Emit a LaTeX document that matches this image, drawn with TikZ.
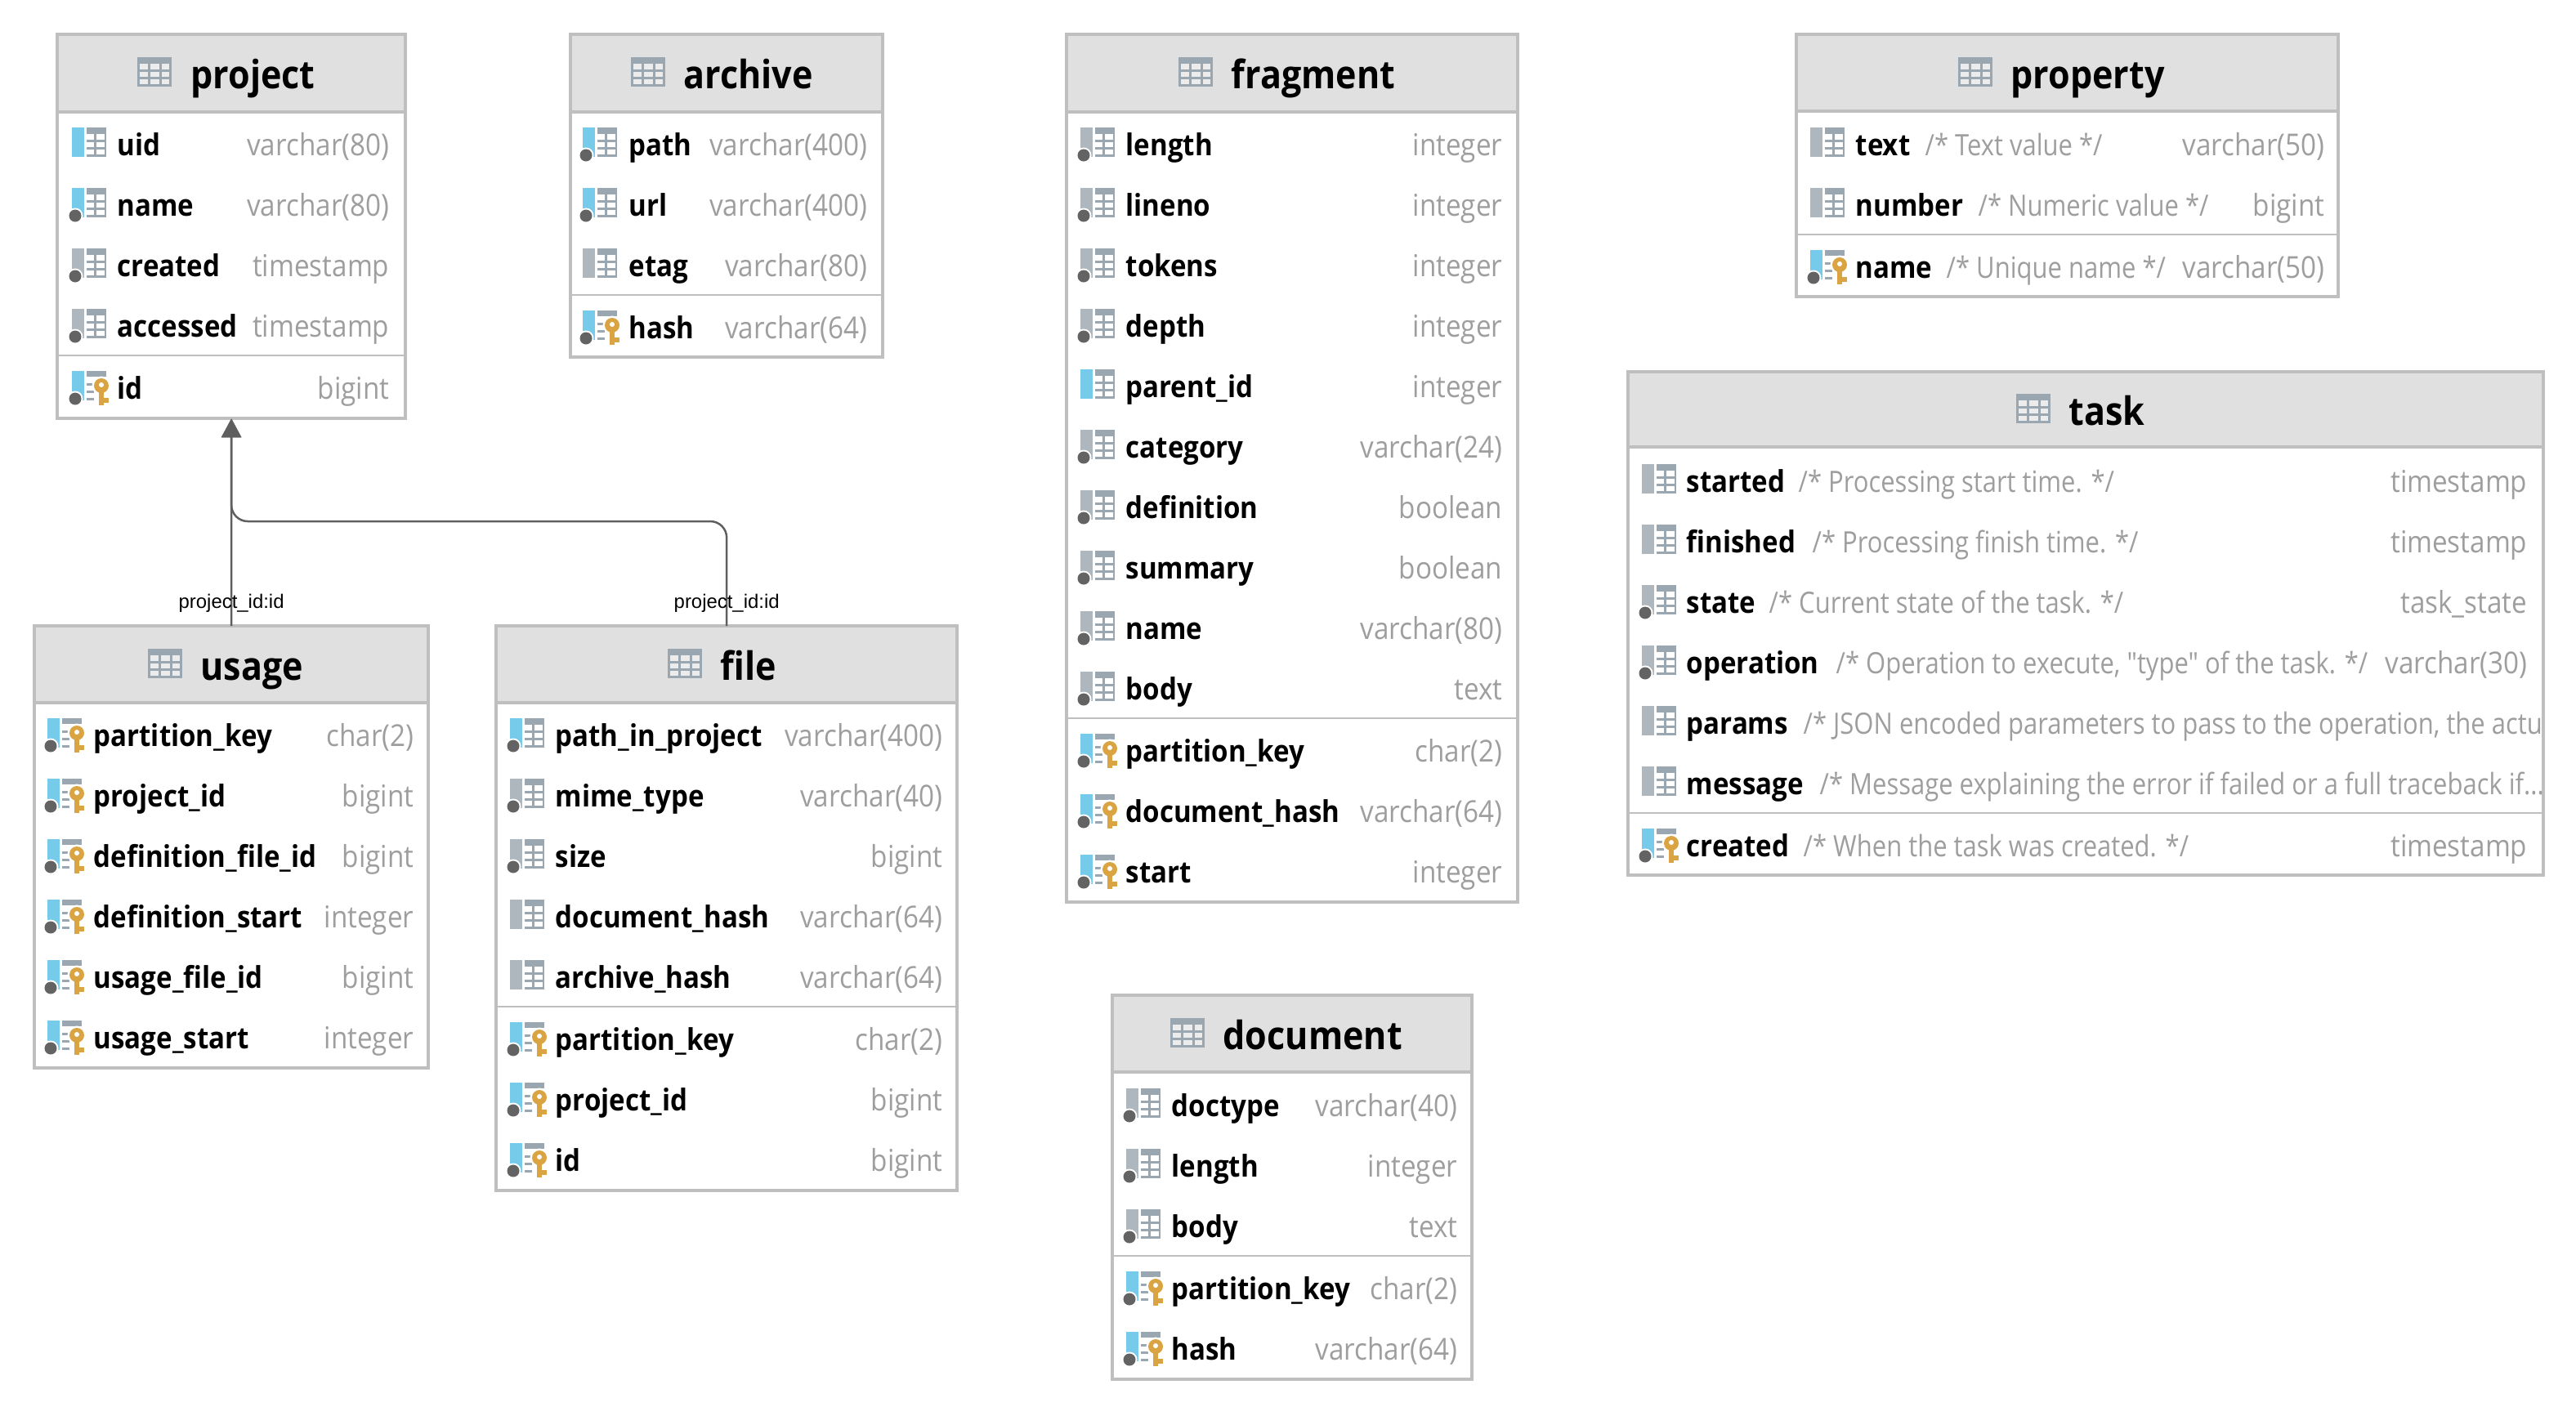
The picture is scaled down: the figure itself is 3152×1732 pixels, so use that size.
\documentclass[tikz,border=0pt]{standalone}
\usepackage{fontspec}
\setmainfont[FakeStretch=0.9]{Open Sans}
\newfontfamily\notefont[FakeStretch=0.86]{Open Sans}
\newfontfamily\edgefont{Liberation Sans}
\usepackage{xcolor}
\definecolor{border}{RGB}{191,191,191}
\definecolor{headfill}{RGB}{224,224,224}
\definecolor{cellfill}{RGB}{236,236,236}
\definecolor{typegray}{RGB}{158,158,158}
\definecolor{icongray}{RGB}{154,167,176}
\definecolor{bargray}{RGB}{173,183,189}
\definecolor{barblue}{RGB}{118,203,235}
\definecolor{dotgray}{RGB}{99,99,99}
\definecolor{keygold}{RGB}{217,164,65}
\definecolor{linkgray}{RGB}{95,95,95}
\usetikzlibrary{arrows.meta}
\newcommand{\colgrid}{%
    \fill[icongray] (18,-18) rectangle (42,-10);
    \fill[icongray] (27,-10) rectangle (30,18);
    \fill[icongray] (40,-10) rectangle (42,18);
    \fill[icongray] (18,-3) rectangle (42,0);
    \fill[icongray] (18,6) rectangle (42,9);
    \fill[icongray] (18,15) rectangle (42,18);
}
\newcommand{\coldot}{%
    \fill[white] (4,16) circle (9.5);
    \fill[dotgray] (4,16) circle (7.5);
}
\tikzset{
    pics/tableicon/.style={code={
        \fill[cellfill] (0,0) rectangle (42,36);
        \draw[icongray,line width=0.03cm] (1.5,1.5) rectangle (40.5,34.5);
        \draw[icongray,line width=0.03cm] (14,0) -- (14,36) (28.5,0) -- (28.5,36) (0,16.5) -- (42,16.5) (0,25.5) -- (42,25.5);
        \fill[icongray] (0,0) rectangle (42,8);
    }},
    pics/colplain/.style={code={\fill[bargray] (0,-18) rectangle (15,18); \colgrid}},
    pics/colnull/.style={code={\fill[bargray] (0,-18) rectangle (15,18); \colgrid \coldot}},
    pics/colidx/.style={code={\fill[barblue] (0,-18) rectangle (15,18); \colgrid}},
    pics/colidxnull/.style={code={\fill[barblue] (0,-18) rectangle (15,18); \colgrid \coldot}},
    pics/colpk/.style={code={
        \fill[barblue] (0,-18) rectangle (15,18);
        \fill[icongray] (18,-18) rectangle (42,-11);
        \fill[icongray] (18,-3) rectangle (27,0);
        \fill[icongray] (18,6) rectangle (27,9);
        \fill[icongray] (18,15) rectangle (27,18);
        \coldot
        \fill[white] (36,0) circle (11.5);
        \fill[white] (31,0) rectangle (41,26);
        \fill[keygold] (36,0) circle (9);
        \fill[keygold] (33,0) rectangle (39,24);
        \fill[keygold] (39,15) rectangle (45,21);
        \fill[white] (36,-1) circle (3);
    }}
}
\begin{document}
\begin{tikzpicture}[
        x=0.01cm, y=-0.01cm,
        tablebox/.style={rectangle, draw=border, fill=white, line width=0.04cm, anchor=north west, inner sep=0pt, outer sep=0pt},
        tablehead/.style={rectangle, draw=border, fill=headfill, line width=0.04cm, anchor=north west, inner sep=0pt, outer sep=0pt},
        tabletitle/.style={anchor=base west, inner sep=0pt, yshift=-0.015cm, font=\fontsize{13.6}{16}\selectfont\bfseries, text=black},
        colname/.style={anchor=base west, inner sep=0pt, yshift=-0.165cm, font=\fontsize{10.45}{12}\selectfont\bfseries, text=black},
        coltype/.style={anchor=base east, inner sep=0pt, yshift=-0.165cm, font=\fontsize{10.5}{12}\selectfont, text=typegray},
        colnote/.style={anchor=base west, inner sep=0pt, yshift=-0.165cm, font=\fontsize{10.24}{12}\notefont, text=typegray},
        rowline/.style={draw=border, line width=0.02cm},
        fklink/.style={draw=linkgray, line width=0.025cm, rounded corners=0.2cm, -{Triangle[length=0.23cm,width=0.24cm]}},
        fklabel/.style={inner sep=0pt, text=black, font=\fontsize{6.8}{8}\edgefont}
    ]
        \useasboundingbox (0,0) rectangle (3152,1732);

        % project
        \node[tablebox, minimum width=4.26cm, minimum height=4.70cm] (project) at (70,42) {};
        \node[tablehead, minimum width=4.26cm, minimum height=0.95cm] (project-head) at (70,42) {};
        \pic at (168,70) {tableicon};
        \node[tabletitle] (project-title) at (233,107) {project};
        \pic at (88,174) {colidx};
        \node[colname] (project-uid) at (143,174) {uid};
        \node[coltype] (project-uid-t) at (477,174) {varchar(80)};
        \pic at (88,248) {colidxnull};
        \node[colname] (project-name) at (143,248) {name};
        \node[coltype] (project-name-t) at (477,248) {varchar(80)};
        \pic at (88,322) {colnull};
        \node[colname] (project-created) at (143,322) {created};
        \node[coltype] (project-created-t) at (477,322) {timestamp};
        \pic at (88,396) {colnull};
        \node[colname] (project-accessed) at (143,396) {accessed};
        \node[coltype] (project-accessed-t) at (477,396) {timestamp};
        \draw[rowline] (70,435) -- (496,435);
        \pic at (88,472) {colpk};
        \node[colname] (project-id) at (143,472) {id};
        \node[coltype] (project-id-t) at (477,472) {bigint};

        % archive
        \node[tablebox, minimum width=3.82cm, minimum height=3.95cm] (archive) at (698,42) {};
        \node[tablehead, minimum width=3.82cm, minimum height=0.95cm] (archive-head) at (698,42) {};
        \pic at (772,70) {tableicon};
        \node[tabletitle] (archive-title) at (836,107) {archive};
        \pic at (713,174) {colidxnull};
        \node[colname] (archive-path) at (769,174) {path};
        \node[coltype] (archive-path-t) at (1062,174) {varchar(400)};
        \pic at (713,248) {colidxnull};
        \node[colname] (archive-url) at (769,248) {url};
        \node[coltype] (archive-url-t) at (1062,248) {varchar(400)};
        \pic at (713,322) {colplain};
        \node[colname] (archive-etag) at (769,322) {etag};
        \node[coltype] (archive-etag-t) at (1062,322) {varchar(80)};
        \draw[rowline] (698,361) -- (1080,361);
        \pic at (713,398) {colpk};
        \node[colname] (archive-hash) at (769,398) {hash};
        \node[coltype] (archive-hash-t) at (1062,398) {varchar(64)};

        % usage
        \node[tablebox, minimum width=4.82cm, minimum height=5.41cm] (usage) at (42,766) {};
        \node[tablehead, minimum width=4.82cm, minimum height=0.94cm] (usage-head) at (42,766) {};
        \pic at (181,794) {tableicon};
        \node[tabletitle] (usage-title) at (245,831) {usage};
        \pic at (58,897) {colpk};
        \node[colname] (usage-partition) at (114,897) {partition\_key};
        \node[coltype] (usage-partition-t) at (507,897) {char(2)};
        \pic at (58,971) {colpk};
        \node[colname] (usage-project) at (114,971) {project\_id};
        \node[coltype] (usage-project-t) at (507,971) {bigint};
        \pic at (58,1045) {colpk};
        \node[colname] (usage-deffile) at (114,1045) {definition\_file\_id};
        \node[coltype] (usage-deffile-t) at (507,1045) {bigint};
        \pic at (58,1119) {colpk};
        \node[colname] (usage-defstart) at (114,1119) {definition\_start};
        \node[coltype] (usage-defstart-t) at (507,1119) {integer};
        \pic at (58,1193) {colpk};
        \node[colname] (usage-usefile) at (114,1193) {usage\_file\_id};
        \node[coltype] (usage-usefile-t) at (507,1193) {bigint};
        \pic at (58,1267) {colpk};
        \node[colname] (usage-usestart) at (114,1267) {usage\_start};
        \node[coltype] (usage-usestart-t) at (507,1267) {integer};

        % file
        \node[tablebox, minimum width=5.64cm, minimum height=6.91cm] (file) at (607,766) {};
        \node[tablehead, minimum width=5.64cm, minimum height=0.94cm] (file-head) at (607,766) {};
        \pic at (817,794) {tableicon};
        \node[tabletitle] (file-title) at (881,831) {file};
        \pic at (624,897) {colidxnull};
        \node[colname] (file-path) at (679,897) {path\_in\_project};
        \node[coltype] (file-path-t) at (1154,897) {varchar(400)};
        \pic at (624,971) {colnull};
        \node[colname] (file-mime) at (679,971) {mime\_type};
        \node[coltype] (file-mime-t) at (1154,971) {varchar(40)};
        \pic at (624,1045) {colnull};
        \node[colname] (file-size) at (679,1045) {size};
        \node[coltype] (file-size-t) at (1154,1045) {bigint};
        \pic at (624,1119) {colplain};
        \node[colname] (file-dochash) at (679,1119) {document\_hash};
        \node[coltype] (file-dochash-t) at (1154,1119) {varchar(64)};
        \pic at (624,1193) {colplain};
        \node[colname] (file-archash) at (679,1193) {archive\_hash};
        \node[coltype] (file-archash-t) at (1154,1193) {varchar(64)};
        \draw[rowline] (607,1232) -- (1171,1232);
        \pic at (624,1269) {colpk};
        \node[colname] (file-partition) at (679,1269) {partition\_key};
        \node[coltype] (file-partition-t) at (1154,1269) {char(2)};
        \pic at (624,1343) {colpk};
        \node[colname] (file-project) at (679,1343) {project\_id};
        \node[coltype] (file-project-t) at (1154,1343) {bigint};
        \pic at (624,1417) {colpk};
        \node[colname] (file-id) at (679,1417) {id};
        \node[coltype] (file-id-t) at (1154,1417) {bigint};

        % fragment
        \node[tablebox, minimum width=5.52cm, minimum height=10.61cm] (fragment) at (1305,42) {};
        \node[tablehead, minimum width=5.52cm, minimum height=0.95cm] (fragment-head) at (1305,42) {};
        \pic at (1442,70) {tableicon};
        \node[tabletitle] (fragment-title) at (1506,107) {fragment};
        \pic at (1322,174) {colnull};
        \node[colname] (fragment-length) at (1377,174) {length};
        \node[coltype] (fragment-length-t) at (1839,174) {integer};
        \pic at (1322,248) {colnull};
        \node[colname] (fragment-lineno) at (1377,248) {lineno};
        \node[coltype] (fragment-lineno-t) at (1839,248) {integer};
        \pic at (1322,322) {colnull};
        \node[colname] (fragment-tokens) at (1377,322) {tokens};
        \node[coltype] (fragment-tokens-t) at (1839,322) {integer};
        \pic at (1322,396) {colnull};
        \node[colname] (fragment-depth) at (1377,396) {depth};
        \node[coltype] (fragment-depth-t) at (1839,396) {integer};
        \pic at (1322,470) {colidx};
        \node[colname] (fragment-parent) at (1377,470) {parent\_id};
        \node[coltype] (fragment-parent-t) at (1839,470) {integer};
        \pic at (1322,544) {colnull};
        \node[colname] (fragment-category) at (1377,544) {category};
        \node[coltype] (fragment-category-t) at (1839,544) {varchar(24)};
        \pic at (1322,618) {colnull};
        \node[colname] (fragment-definition) at (1377,618) {definition};
        \node[coltype] (fragment-definition-t) at (1839,618) {boolean};
        \pic at (1322,692) {colnull};
        \node[colname] (fragment-summary) at (1377,692) {summary};
        \node[coltype] (fragment-summary-t) at (1839,692) {boolean};
        \pic at (1322,766) {colnull};
        \node[colname] (fragment-name) at (1377,766) {name};
        \node[coltype] (fragment-name-t) at (1839,766) {varchar(80)};
        \pic at (1322,840) {colnull};
        \node[colname] (fragment-body) at (1377,840) {body};
        \node[coltype] (fragment-body-t) at (1839,840) {text};
        \draw[rowline] (1305,879) -- (1857,879);
        \pic at (1322,916) {colpk};
        \node[colname] (fragment-partition) at (1377,916) {partition\_key};
        \node[coltype] (fragment-partition-t) at (1839,916) {char(2)};
        \pic at (1322,990) {colpk};
        \node[colname] (fragment-dochash) at (1377,990) {document\_hash};
        \node[coltype] (fragment-dochash-t) at (1839,990) {varchar(64)};
        \pic at (1322,1064) {colpk};
        \node[colname] (fragment-start) at (1377,1064) {start};
        \node[coltype] (fragment-start-t) at (1839,1064) {integer};

        % document
        \node[tablebox, minimum width=4.40cm, minimum height=4.70cm] (document) at (1361,1218) {};
        \node[tablehead, minimum width=4.40cm, minimum height=0.94cm] (document-head) at (1361,1218) {};
        \pic at (1432,1246) {tableicon};
        \node[tabletitle] (document-title) at (1496,1283) {document};
        \pic at (1378,1350) {colnull};
        \node[colname] (document-doctype) at (1433,1350) {doctype};
        \node[coltype] (document-doctype-t) at (1784,1350) {varchar(40)};
        \pic at (1378,1424) {colnull};
        \node[colname] (document-length) at (1433,1424) {length};
        \node[coltype] (document-length-t) at (1784,1424) {integer};
        \pic at (1378,1498) {colnull};
        \node[colname] (document-body) at (1433,1498) {body};
        \node[coltype] (document-body-t) at (1784,1498) {text};
        \draw[rowline] (1361,1537) -- (1801,1537);
        \pic at (1378,1574) {colpk};
        \node[colname] (document-partition) at (1433,1574) {partition\_key};
        \node[coltype] (document-partition-t) at (1784,1574) {char(2)};
        \pic at (1378,1648) {colpk};
        \node[colname] (document-hash) at (1433,1648) {hash};
        \node[coltype] (document-hash-t) at (1784,1648) {varchar(64)};

        % property
        \node[tablebox, minimum width=6.63cm, minimum height=3.21cm] (property) at (2198,42) {};
        \node[tablehead, minimum width=6.63cm, minimum height=0.94cm] (property-head) at (2198,42) {};
        \pic at (2396,70) {tableicon};
        \node[tabletitle] (property-title) at (2460,107) {property};
        \pic at (2215,174) {colplain};
        \node[colname] (property-text) at (2270,174) {text};
        \node[colnote] (property-text-c) at (2355,174) {/* Text value */};
        \node[coltype] (property-text-t) at (2845,174) {varchar(50)};
        \pic at (2215,248) {colplain};
        \node[colname] (property-number) at (2270,248) {number};
        \node[colnote] (property-number-c) at (2420,248) {/* Numeric value */};
        \node[coltype] (property-number-t) at (2845,248) {bigint};
        \draw[rowline] (2198,287) -- (2861,287);
        \pic at (2215,324) {colpk};
        \node[colname] (property-name) at (2270,324) {name};
        \node[colnote] (property-name-c) at (2381,324) {/* Unique name */};
        \node[coltype] (property-name-t) at (2845,324) {varchar(50)};

        % task
        \node[tablebox, minimum width=11.19cm, minimum height=6.16cm] (task) at (1992,455) {};
        \node[tablehead, minimum width=11.19cm, minimum height=0.92cm] (task-head) at (1992,455) {};
        \pic at (2467,482) {tableicon};
        \node[tabletitle] (task-title) at (2531,519) {task};
        \pic at (2009,586) {colplain};
        \node[colname] (task-started) at (2063,586) {started};
        \node[colnote] (task-started-c) at (2200,586) {/* Processing start time. */};
        \node[coltype] (task-started-t) at (3093,586) {timestamp};
        \pic at (2009,660) {colplain};
        \node[colname] (task-finished) at (2063,660) {finished};
        \node[colnote] (task-finished-c) at (2217,660) {/* Processing finish time. */};
        \node[coltype] (task-finished-t) at (3093,660) {timestamp};
        \pic at (2009,734) {colnull};
        \node[colname] (task-state) at (2063,734) {state};
        \node[colnote] (task-state-c) at (2164,734) {/* Current state of the task. */};
        \node[coltype] (task-state-t) at (3093,734) {task\_state};
        \pic at (2009,808) {colnull};
        \node[colname] (task-operation) at (2063,808) {operation};
        \node[colnote] (task-operation-c) at (2246,808) {/* Operation to execute, "type" of the task. */};
        \node[coltype] (task-operation-t) at (3093,808) {varchar(30)};
        \pic at (2009,882) {colplain};
        \node[colname] (task-params) at (2063,882) {params};
        \begin{scope}
            \clip (1992,455) rectangle (3108,1070);
            \node[colnote] (task-params-c) at (2206,882) {/* JSON encoded parameters to pass to the operation, the actu};
        \end{scope}
        \pic at (2009,956) {colplain};
        \node[colname] (task-message) at (2063,956) {message};
        \node[colnote] (task-message-c) at (2226,956) {/* Message explaining the error if failed or a full traceback if...};
        \draw[rowline] (1992,995) -- (3111,995);
        \pic at (2009,1032) {colpk};
        \node[colname] (task-created) at (2063,1032) {created};
        \node[colnote] (task-created-c) at (2206,1032) {/* When the task was created. */};
        \node[coltype] (task-created-t) at (3093,1032) {timestamp};

        % links
        \draw[fklink] (usage.north) -- node[fklabel,pos=0.11] (usage-link) {project\_id:id} (project.south);
        \draw[fklink] (file.north) -- node[fklabel,pos=0.22] (file-link) {project\_id:id} ++(0,-128) -| (project.south);
    \end{tikzpicture}
\end{document}
